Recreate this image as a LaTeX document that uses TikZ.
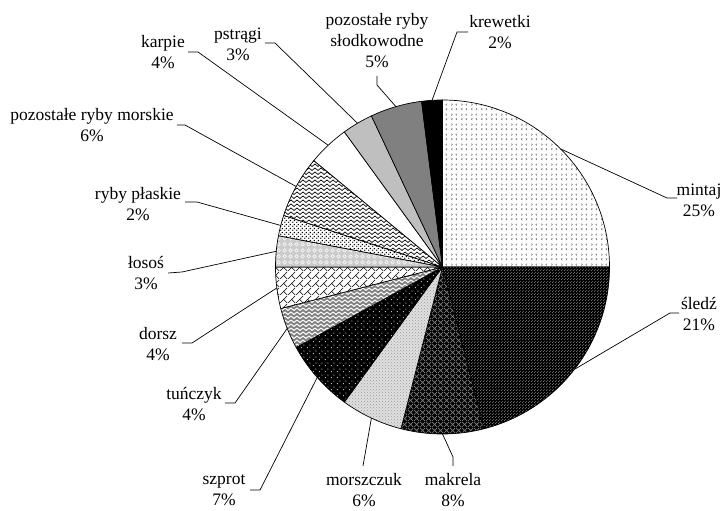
\documentclass[tikz,border=0pt]{standalone}
\usepackage{fontspec}
\setmainfont{Liberation Serif}
\usetikzlibrary{patterns}
\pgfdeclarepatternformonly{chev}{\pgfpoint{0pt}{0pt}}{\pgfpoint{10pt}{10pt}}{\pgfpoint{10pt}{10pt}}{
 \pgfsetlinewidth{0.5pt}
 \pgfpathmoveto{\pgfpoint{2.6pt}{1pt}}\pgfpathlineto{\pgfpoint{1.4pt}{2pt}}\pgfpathlineto{\pgfpoint{2.6pt}{3pt}}
 \pgfpathmoveto{\pgfpoint{6.4pt}{1pt}}\pgfpathlineto{\pgfpoint{7.6pt}{2pt}}\pgfpathlineto{\pgfpoint{6.4pt}{3pt}}
 \pgfpathmoveto{\pgfpoint{1.4pt}{6pt}}\pgfpathlineto{\pgfpoint{2.6pt}{7pt}}\pgfpathlineto{\pgfpoint{1.4pt}{8pt}}
 \pgfpathmoveto{\pgfpoint{7.6pt}{6pt}}\pgfpathlineto{\pgfpoint{6.4pt}{7pt}}\pgfpathlineto{\pgfpoint{7.6pt}{8pt}}
 \pgfusepath{stroke}}
\pgfdeclarepatternformonly{diamondgrid}{\pgfpoint{0pt}{0pt}}{\pgfpoint{6pt}{6pt}}{\pgfpoint{6pt}{6pt}}{
 \pgfsetlinewidth{0.8pt}
 \pgfpathmoveto{\pgfpoint{0pt}{0pt}}\pgfpathlineto{\pgfpoint{6pt}{6pt}}
 \pgfpathmoveto{\pgfpoint{0pt}{6pt}}\pgfpathlineto{\pgfpoint{6pt}{0pt}}
 \pgfusepath{stroke}}
\pgfdeclarepatternformonly{zigzag}{\pgfpoint{0pt}{-1pt}}{\pgfpoint{6pt}{5pt}}{\pgfpoint{6pt}{4pt}}{
 \pgfsetlinewidth{0.7pt}
 \pgfpathmoveto{\pgfpoint{0pt}{0.5pt}}\pgfpathlineto{\pgfpoint{3pt}{3pt}}\pgfpathlineto{\pgfpoint{6pt}{0.5pt}}
 \pgfusepath{stroke}}
\pgfdeclarepatternformonly{widezigzag}{\pgfpoint{0pt}{-1pt}}{\pgfpoint{6pt}{5pt}}{\pgfpoint{6pt}{4pt}}{
 \pgfsetlinewidth{1pt}
 \pgfpathmoveto{\pgfpoint{0pt}{0.5pt}}\pgfpathlineto{\pgfpoint{3pt}{3pt}}\pgfpathlineto{\pgfpoint{6pt}{0.5pt}}
 \pgfusepath{stroke}}
\pgfdeclarepatternformonly{diagbricks}{\pgfpoint{0pt}{0pt}}{\pgfpoint{8pt}{8pt}}{\pgfpoint{8pt}{8pt}}{
 \pgfsetlinewidth{0.6pt}
 \pgfpathmoveto{\pgfpoint{0pt}{0pt}}\pgfpathlineto{\pgfpoint{8pt}{8pt}}
 \pgfpathmoveto{\pgfpoint{4pt}{4pt}}\pgfpathlineto{\pgfpoint{8pt}{0pt}}
 \pgfusepath{stroke}}
\pgfdeclarepatternformonly{bigdots}{\pgfpoint{0pt}{0pt}}{\pgfpoint{4pt}{4pt}}{\pgfpoint{4pt}{4pt}}{
 \pgfpathcircle{\pgfpoint{1pt}{1pt}}{0.9pt}\pgfpathcircle{\pgfpoint{3pt}{3pt}}{0.9pt}\pgfusepath{fill}}
\pgfdeclarepatternformonly{sparsedots}{\pgfpoint{0pt}{0pt}}{\pgfpoint{6pt}{6pt}}{\pgfpoint{6pt}{6pt}}{
 \pgfpathcircle{\pgfpoint{1.5pt}{1.5pt}}{0.6pt}\pgfpathcircle{\pgfpoint{4.5pt}{4.5pt}}{0.6pt}\pgfusepath{fill}}
\pgfdeclarepatternformonly{finedots}{\pgfpoint{0pt}{0pt}}{\pgfpoint{3pt}{3pt}}{\pgfpoint{3pt}{3pt}}{
 \pgfpathcircle{\pgfpoint{0.75pt}{0.75pt}}{0.6pt}\pgfpathcircle{\pgfpoint{2.25pt}{2.25pt}}{0.6pt}\pgfusepath{fill}}
\pgfdeclarepatternformonly{rings}{\pgfpoint{0pt}{0pt}}{\pgfpoint{6pt}{6pt}}{\pgfpoint{6pt}{6pt}}{
 \pgfsetlinewidth{0.6pt}
 \pgfpathcircle{\pgfpoint{3pt}{3pt}}{2pt}\pgfusepath{stroke}}
\newcommand\pieslice[3]{\path[slc,#1] (C) -- ++(#2:167) arc[start angle=#2, end angle=#3, radius=167] -- cycle;}
\begin{document}
\begin{tikzpicture}[x=1pt,y=1pt,
  lbl/.style={inner sep=0pt, align=center, font=\fontsize{17.5pt}{21pt}\selectfont},
  slc/.style={draw=black, line width=0.7pt, line join=round},
  lead/.style={draw=black, line width=0.7pt}]
\useasboundingbox[fill=white] (0,0) rectangle (721,511);
\coordinate (C) at (442.5,244);
% slices
\pieslice{preaction={fill=white},pattern=chev,pattern color=black!60}{90}{0}
\pieslice{preaction={fill=black},pattern=finedots,pattern color=black!40}{0}{-75.6}
\pieslice{preaction={fill=black},pattern=diamondgrid,pattern color=black!50}{-75.6}{-104.4}
\pieslice{preaction={fill=black!12},pattern=crosshatch dots,pattern color=black!40}{-104.4}{-126}
\pieslice{preaction={fill=black},pattern=sparsedots,pattern color=white}{-126}{-151.2}
\pieslice{preaction={fill=black!50},pattern=widezigzag,pattern color=white}{-151.2}{-165.6}
\pieslice{preaction={fill=white},pattern=diagbricks,pattern color=black}{-165.6}{-180}
\pieslice{preaction={fill=black!20},pattern=rings,pattern color=white}{-180}{-190.8}
\pieslice{preaction={fill=white},pattern=bigdots,pattern color=black}{-190.8}{-198}
\pieslice{preaction={fill=white},pattern=zigzag,pattern color=black}{-198}{-219.6}
\pieslice{fill=white}{-219.6}{-234}
\pieslice{fill=black!25}{-234}{-244.8}
\pieslice{fill=black!50}{-244.8}{-262.8}
\pieslice{fill=black}{-262.8}{-270}
% edge points
\path (C) ++(45:167) coordinate (e-mintaj);
\path (C) ++(-37.8:167) coordinate (e-sledz);
\path (C) ++(-90:167) coordinate (e-makrela);
\path (C) ++(-115.2:167) coordinate (e-morszczuk);
\path (C) ++(-138.6:167) coordinate (e-szprot);
\path (C) ++(-158.4:167) coordinate (e-tunczyk);
\path (C) ++(-172.8:167) coordinate (e-dorsz);
\path (C) ++(-185.4:167) coordinate (e-losos);
\path (C) ++(-194.4:167) coordinate (e-plaskie);
\path (C) ++(-208.8:167) coordinate (e-morskie);
\path (C) ++(-226.8:167) coordinate (e-karpie);
\path (C) ++(-239.4:167) coordinate (e-pstragi);
\path (C) ++(-253.8:167) coordinate (e-slodk);
\path (C) ++(-266.4:167) coordinate (e-krewetki);
% labels
\node[lbl] (t-mintaj) at (699,311) {mintaj\\25\%};
\node[lbl] (t-sledz) at (699,197) {śledź\\21\%};
\node[lbl] (t-makrela) at (453,21) {makrela\\8\%};
\node[lbl] (t-morszczuk) at (364,21) {morszczuk\\6\%};
\node[lbl] (t-szprot) at (224,21) {szprot\\7\%};
\node[lbl] (t-tunczyk) at (194,107) {tuńczyk\\4\%};
\node[lbl] (t-dorsz) at (158,167) {dorsz\\4\%};
\node[lbl] (t-losos) at (146,238) {łosoś\\3\%};
\node[lbl] (t-plaskie) at (138,307) {ryby płaskie\\2\%};
\node[lbl] (t-morskie) at (92,386) {pozostałe ryby morskie\\6\%};
\node[lbl] (t-karpie) at (163,459) {karpie\\4\%};
\node[lbl] (t-pstragi) at (238,467) {pstrągi\\3\%};
\node[lbl] (t-slodk) at (377,470) {pozostałe ryby\\słodkowodne\\5\%};
\node[lbl] (t-krewetki) at (500,479) {krewetki\\2\%};
% leader elbows and ends
\coordinate (b-mintaj) at (667,313);   \coordinate (f-mintaj) at (677,313);
\coordinate (b-sledz) at (670,198);    \coordinate (f-sledz) at (679,198);
\coordinate (b-makrela) at (453,54);   \coordinate (f-makrela) at (453,45);
\coordinate (f-morszczuk) at (363,45);
\coordinate (b-szprot) at (260,21);    \coordinate (f-szprot) at (250,21);
\coordinate (b-tunczyk) at (235,108);  \coordinate (f-tunczyk) at (225,108);
\coordinate (b-dorsz) at (192,168);    \coordinate (f-dorsz) at (182,168);
\coordinate (b-losos) at (182,239);    \coordinate (f-losos) at (168,238);
\coordinate (b-plaskie) at (197,309);  \coordinate (f-plaskie) at (185,309);
\coordinate (b-morskie) at (185,386);  \coordinate (f-morskie) at (177,386);
\coordinate (b-karpie) at (198,459);   \coordinate (f-karpie) at (188,459);
\coordinate (b-pstragi) at (275,468);  \coordinate (f-pstragi) at (265,468);
\coordinate (b-slodk) at (377,426);    \coordinate (f-slodk) at (377,435);
\coordinate (b-krewetki) at (457,479); \coordinate (f-krewetki) at (468,479);
\draw[lead] (e-mintaj) -- (b-mintaj) -- (f-mintaj);
\draw[lead] (e-sledz) -- (b-sledz) -- (f-sledz);
\draw[lead] (e-makrela) -- (b-makrela) -- (f-makrela);
\draw[lead] (e-morszczuk) -- (f-morszczuk);
\draw[lead] (e-szprot) -- (b-szprot) -- (f-szprot);
\draw[lead] (e-tunczyk) -- (b-tunczyk) -- (f-tunczyk);
\draw[lead] (e-dorsz) -- (b-dorsz) -- (f-dorsz);
\draw[lead] (e-losos) -- (b-losos) -- (f-losos);
\draw[lead] (e-plaskie) -- (b-plaskie) -- (f-plaskie);
\draw[lead] (e-morskie) -- (b-morskie) -- (f-morskie);
\draw[lead] (e-karpie) -- (b-karpie) -- (f-karpie);
\draw[lead] (e-pstragi) -- (b-pstragi) -- (f-pstragi);
\draw[lead] (e-slodk) -- (b-slodk) -- (f-slodk);
\draw[lead] (e-krewetki) -- (b-krewetki) -- (f-krewetki);
\end{tikzpicture}
\end{document}
